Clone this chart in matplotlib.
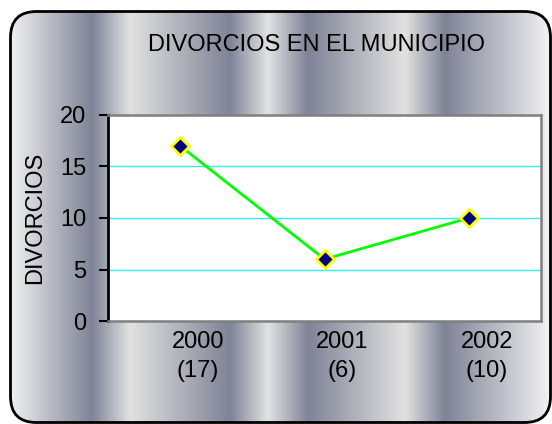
import numpy as np
import matplotlib
matplotlib.use("Agg")
import matplotlib.pyplot as plt
from matplotlib.colors import to_rgb
from matplotlib.patches import FancyBboxPatch
from matplotlib.transforms import ScaledTranslation

plt.rcParams["font.family"] = ["Liberation Sans", "DejaVu Sans"]

# Data
years = ["2000", "2001", "2002"]
divorces = [17, 6, 10]

W, H = 552, 424
fig = plt.figure(figsize=(W / 100, H / 100), dpi=100)

# Background: metallic vertical stripes inside a rounded frame
bg = fig.add_axes([0, 0, 1, 1])
bg.set_xlim(0, W)
bg.set_ylim(H, 0)
bg.axis("off")

light, dark, edge = "#e2e2e2", "#7f8396", "#f4f4f4"
stops = [(0, edge), (12, "#efefef"), (92, dark), (130, light), (230, dark),
         (268, light), (308, dark), (405, light), (445, dark), (W, edge)]
xs = np.arange(W) + 0.5
cols = np.array([to_rgb(c) for _, c in stops])
pos = [p for p, _ in stops]
row = np.stack([np.interp(xs, pos, cols[:, k]) for k in range(3)], axis=-1)
img = np.repeat(row[None, :, :], 2, axis=0)

frame = FancyBboxPatch((10.5, 11.5), 540, 411,
                       boxstyle="round,pad=0,rounding_size=26",
                       facecolor="none", edgecolor="black", linewidth=2,
                       zorder=3)
bg.add_patch(frame)
im = bg.imshow(img, extent=[0, W, H, 0], aspect="auto", zorder=1)
im.set_clip_path(frame)

# Plot area
ax = fig.add_axes([108 / W, 1 - 321 / H, (541 - 108) / W, (321 - 115) / H])
ax.set_facecolor("white")
x = np.arange(len(years))
ax.plot(x, divorces, color="#00ff00", linewidth=2, marker="D",
        markersize=9, markerfacecolor="#000080", markeredgecolor="#ffff00",
        markeredgewidth=2, zorder=3, clip_on=False)

ax.set_xlim(-0.5, len(years) - 0.5)
ax.set_ylim(0, 20)
ax.set_yticks([0, 5, 10, 15, 20])
ax.set_xticks(x)
ax.set_xticklabels([f"{y}\n({v})" for y, v in zip(years, divorces)],
                   linespacing=1.4)
ax.tick_params(axis="x", length=0, pad=7, labelsize=17)
ax.tick_params(axis="y", length=6.5, width=1.5, pad=9, labelsize=17)

# category labels sit a little right of the points, as in the original
shift = ScaledTranslation(18 / 100, 0, fig.dpi_scale_trans)
for lbl in ax.get_xticklabels():
    lbl.set_transform(lbl.get_transform() + shift)

ax.yaxis.grid(True, color="#30f0f0", linewidth=1)
ax.set_axisbelow(True)
for s in ["top", "right", "bottom"]:
    ax.spines[s].set_color("#808080")
    ax.spines[s].set_linewidth(1.8)
ax.spines["left"].set_color("black")
ax.spines["left"].set_linewidth(2)

fig.text(317 / W, 1 - 45 / H, "DIVORCIOS EN EL MUNICIPIO", fontsize=17,
         ha="center", va="center")
fig.text(35 / W, 1 - 218 / H, "DIVORCIOS", fontsize=17, rotation=90,
         ha="center", va="center")

fig.savefig("out.png", dpi=100)
